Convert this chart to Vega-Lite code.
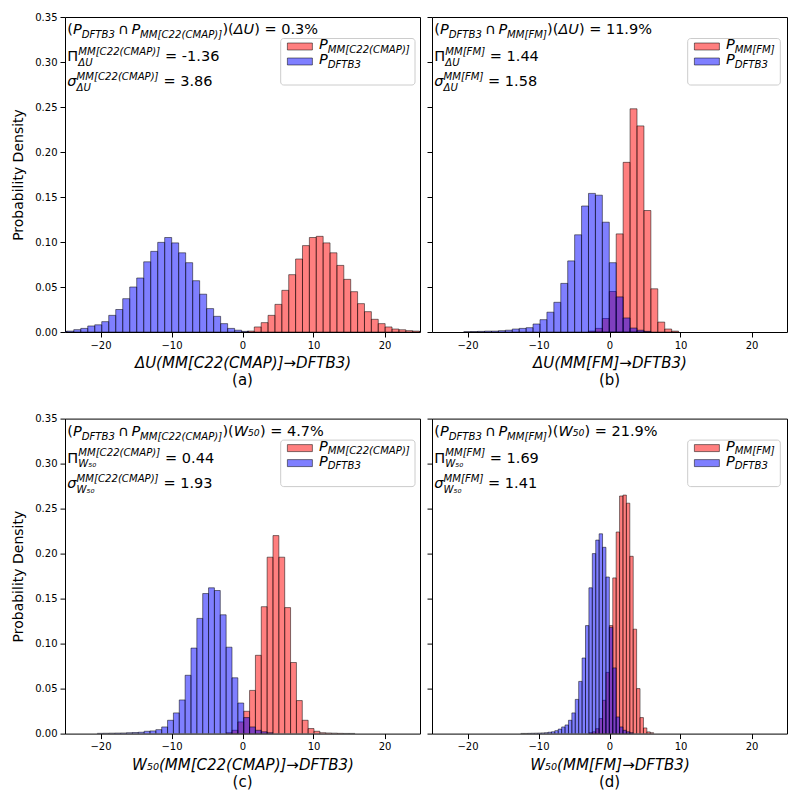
{
"$schema":"https://vega.github.io/schema/vega-lite/v6.json",
"background":"white",
"padding":{"left":11,"top":11,"right":0,"bottom":0},
"bounds":"flush",
"columns":2,
"spacing":{"row":86.6,"column":12},
"config":{
 "font":"DejaVu Sans",
 "view":{"stroke":"black","strokeWidth":1},
 "axis":{"domain":false,"grid":false,"tickColor":"black","tickSize":5,"tickWidth":1,"labelFontSize":10,"labelColor":"black","labelFont":"DejaVu Sans","labelPadding":3,"labelFlush":false,"labelOverlap":false,"titleFont":"DejaVu Sans","titleColor":"black","titleFontWeight":"normal"},
 "axisX":{"titleFontSize":15,"titleFontStyle":"italic","titlePadding":5.5},
 "axisY":{"titleFontSize":14,"titlePadding":9}
},
"datasets":{"all":[
{"p":"a","g":"MM","x":0.69,"x2":1.66,"y":0.001},{"p":"a","g":"MM","x":1.66,"x2":2.63,"y":0.0056},{"p":"a","g":"MM","x":2.63,"x2":3.6,"y":0.0104},{"p":"a","g":"MM","x":3.6,"x2":4.57,"y":0.0185},{"p":"a","g":"MM","x":4.57,"x2":5.54,"y":0.0307},{"p":"a","g":"MM","x":5.54,"x2":6.51,"y":0.0463},{"p":"a","g":"MM","x":6.51,"x2":7.48,"y":0.0637},{"p":"a","g":"MM","x":7.48,"x2":8.45,"y":0.0811},{"p":"a","g":"MM","x":8.45,"x2":9.42,"y":0.096},{"p":"a","g":"MM","x":9.42,"x2":10.39,"y":0.105},{"p":"a","g":"MM","x":10.39,"x2":11.36,"y":0.1063},{"p":"a","g":"MM","x":11.36,"x2":12.33,"y":0.099},{"p":"a","g":"MM","x":12.33,"x2":13.3,"y":0.088},{"p":"a","g":"MM","x":13.3,"x2":14.27,"y":0.074},{"p":"a","g":"MM","x":14.27,"x2":15.24,"y":0.0585},{"p":"a","g":"MM","x":15.24,"x2":16.21,"y":0.0448},{"p":"a","g":"MM","x":16.21,"x2":17.18,"y":0.0315},{"p":"a","g":"MM","x":17.18,"x2":18.15,"y":0.0226},{"p":"a","g":"MM","x":18.15,"x2":19.12,"y":0.0141},{"p":"a","g":"MM","x":19.12,"x2":20.09,"y":0.0093},{"p":"a","g":"MM","x":20.09,"x2":21.06,"y":0.0056},{"p":"a","g":"MM","x":21.06,"x2":22.03,"y":0.0033},{"p":"a","g":"MM","x":22.03,"x2":23.0,"y":0.0025},{"p":"a","g":"MM","x":23.0,"x2":23.97,"y":0.0015},{"p":"a","g":"MM","x":23.97,"x2":24.94,"y":0.001},{"p":"a","g":"MM","x":24.94,"x2":25.91,"y":0.0005},
{"p":"a","g":"DF","x":-25.735,"x2":-24.75,"y":0.0008},{"p":"a","g":"DF","x":-24.75,"x2":-23.765,"y":0.001},{"p":"a","g":"DF","x":-23.765,"x2":-22.78,"y":0.0026},{"p":"a","g":"DF","x":-22.78,"x2":-21.795,"y":0.004},{"p":"a","g":"DF","x":-21.795,"x2":-20.81,"y":0.0067},{"p":"a","g":"DF","x":-20.81,"x2":-19.825,"y":0.008},{"p":"a","g":"DF","x":-19.825,"x2":-18.84,"y":0.0115},{"p":"a","g":"DF","x":-18.84,"x2":-17.855,"y":0.0185},{"p":"a","g":"DF","x":-17.855,"x2":-16.87,"y":0.025},{"p":"a","g":"DF","x":-16.87,"x2":-15.885,"y":0.037},{"p":"a","g":"DF","x":-15.885,"x2":-14.9,"y":0.05},{"p":"a","g":"DF","x":-14.9,"x2":-13.915,"y":0.06},{"p":"a","g":"DF","x":-13.915,"x2":-12.93,"y":0.078},{"p":"a","g":"DF","x":-12.93,"x2":-11.945,"y":0.0896},{"p":"a","g":"DF","x":-11.945,"x2":-10.96,"y":0.0996},{"p":"a","g":"DF","x":-10.96,"x2":-9.975,"y":0.105},{"p":"a","g":"DF","x":-9.975,"x2":-8.99,"y":0.099},{"p":"a","g":"DF","x":-8.99,"x2":-8.005,"y":0.088},{"p":"a","g":"DF","x":-8.005,"x2":-7.02,"y":0.077},{"p":"a","g":"DF","x":-7.02,"x2":-6.035,"y":0.057},{"p":"a","g":"DF","x":-6.035,"x2":-5.05,"y":0.042},{"p":"a","g":"DF","x":-5.05,"x2":-4.065,"y":0.026},{"p":"a","g":"DF","x":-4.065,"x2":-3.08,"y":0.0174},{"p":"a","g":"DF","x":-3.08,"x2":-2.095,"y":0.0093},{"p":"a","g":"DF","x":-2.095,"x2":-1.11,"y":0.004},{"p":"a","g":"DF","x":-1.11,"x2":-0.125,"y":0.002},{"p":"a","g":"DF","x":-0.125,"x2":0.86,"y":0.0007},
{"p":"b","g":"DF","x":-20.526,"x2":-19.55,"y":0.0003},{"p":"b","g":"DF","x":-19.55,"x2":-18.574,"y":0.0005},{"p":"b","g":"DF","x":-18.574,"x2":-17.598,"y":0.0007},{"p":"b","g":"DF","x":-17.598,"x2":-16.622,"y":0.001},{"p":"b","g":"DF","x":-16.622,"x2":-15.646,"y":0.001},{"p":"b","g":"DF","x":-15.646,"x2":-14.67,"y":0.0015},{"p":"b","g":"DF","x":-14.67,"x2":-13.694,"y":0.002},{"p":"b","g":"DF","x":-13.694,"x2":-12.718,"y":0.0033},{"p":"b","g":"DF","x":-12.718,"x2":-11.742,"y":0.004},{"p":"b","g":"DF","x":-11.742,"x2":-10.766,"y":0.0048},{"p":"b","g":"DF","x":-10.766,"x2":-9.79,"y":0.0089},{"p":"b","g":"DF","x":-9.79,"x2":-8.814,"y":0.0137},{"p":"b","g":"DF","x":-8.814,"x2":-7.838,"y":0.022},{"p":"b","g":"DF","x":-7.838,"x2":-6.862,"y":0.033},{"p":"b","g":"DF","x":-6.862,"x2":-5.886,"y":0.054},{"p":"b","g":"DF","x":-5.886,"x2":-4.91,"y":0.079},{"p":"b","g":"DF","x":-4.91,"x2":-3.934,"y":0.108},{"p":"b","g":"DF","x":-3.934,"x2":-2.958,"y":0.14},{"p":"b","g":"DF","x":-2.958,"x2":-1.982,"y":0.154},{"p":"b","g":"DF","x":-1.982,"x2":-1.006,"y":0.152},{"p":"b","g":"DF","x":-1.006,"x2":-0.03,"y":0.122},{"p":"b","g":"DF","x":-0.03,"x2":0.946,"y":0.077},{"p":"b","g":"DF","x":0.946,"x2":1.922,"y":0.039},{"p":"b","g":"DF","x":1.922,"x2":2.898,"y":0.0156},{"p":"b","g":"DF","x":2.898,"x2":3.874,"y":0.0044},{"p":"b","g":"DF","x":3.874,"x2":4.85,"y":0.002},{"p":"b","g":"DF","x":4.85,"x2":5.826,"y":0.0007},
{"p":"b","g":"MM","x":-2.958,"x2":-1.982,"y":0.001},{"p":"b","g":"MM","x":-1.982,"x2":-1.006,"y":0.004},{"p":"b","g":"MM","x":-1.006,"x2":-0.03,"y":0.015},{"p":"b","g":"MM","x":-0.03,"x2":0.946,"y":0.045},{"p":"b","g":"MM","x":0.946,"x2":1.922,"y":0.109},{"p":"b","g":"MM","x":1.922,"x2":2.898,"y":0.1885},{"p":"b","g":"MM","x":2.898,"x2":3.874,"y":0.248},{"p":"b","g":"MM","x":3.874,"x2":4.85,"y":0.229},{"p":"b","g":"MM","x":4.85,"x2":5.826,"y":0.135},{"p":"b","g":"MM","x":5.826,"x2":6.802,"y":0.048},{"p":"b","g":"MM","x":6.802,"x2":7.778,"y":0.011},{"p":"b","g":"MM","x":7.778,"x2":8.754,"y":0.0033},{"p":"b","g":"MM","x":8.754,"x2":9.73,"y":0.001},
{"p":"c","g":"DF","x":-20.455,"x2":-19.63,"y":0.0003},{"p":"c","g":"DF","x":-19.63,"x2":-18.805,"y":0.0004},{"p":"c","g":"DF","x":-18.805,"x2":-17.98,"y":0.0005},{"p":"c","g":"DF","x":-17.98,"x2":-17.155,"y":0.0006},{"p":"c","g":"DF","x":-17.155,"x2":-16.33,"y":0.0007},{"p":"c","g":"DF","x":-16.33,"x2":-15.505,"y":0.001},{"p":"c","g":"DF","x":-15.505,"x2":-14.68,"y":0.0012},{"p":"c","g":"DF","x":-14.68,"x2":-13.855,"y":0.0015},{"p":"c","g":"DF","x":-13.855,"x2":-13.03,"y":0.0026},{"p":"c","g":"DF","x":-13.03,"x2":-12.205,"y":0.003},{"p":"c","g":"DF","x":-12.205,"x2":-11.38,"y":0.0044},{"p":"c","g":"DF","x":-11.38,"x2":-10.555,"y":0.0074},{"p":"c","g":"DF","x":-10.555,"x2":-9.73,"y":0.0148},{"p":"c","g":"DF","x":-9.73,"x2":-8.905,"y":0.023},{"p":"c","g":"DF","x":-8.905,"x2":-8.08,"y":0.0374},{"p":"c","g":"DF","x":-8.08,"x2":-7.255,"y":0.0648},{"p":"c","g":"DF","x":-7.255,"x2":-6.43,"y":0.095},{"p":"c","g":"DF","x":-6.43,"x2":-5.605,"y":0.128},{"p":"c","g":"DF","x":-5.605,"x2":-4.78,"y":0.1556},{"p":"c","g":"DF","x":-4.78,"x2":-3.955,"y":0.162},{"p":"c","g":"DF","x":-3.955,"x2":-3.13,"y":0.159},{"p":"c","g":"DF","x":-3.13,"x2":-2.305,"y":0.132},{"p":"c","g":"DF","x":-2.305,"x2":-1.48,"y":0.096},{"p":"c","g":"DF","x":-1.48,"x2":-0.655,"y":0.062},{"p":"c","g":"DF","x":-0.655,"x2":0.17,"y":0.034},{"p":"c","g":"DF","x":0.17,"x2":0.995,"y":0.0178},{"p":"c","g":"DF","x":0.995,"x2":1.82,"y":0.0074},{"p":"c","g":"DF","x":1.82,"x2":2.645,"y":0.0037},{"p":"c","g":"DF","x":2.645,"x2":3.47,"y":0.002},{"p":"c","g":"DF","x":3.47,"x2":4.295,"y":0.001},
{"p":"c","g":"MM","x":-2.305,"x2":-1.48,"y":0.001},{"p":"c","g":"MM","x":-1.48,"x2":-0.655,"y":0.0037},{"p":"c","g":"MM","x":-0.655,"x2":0.17,"y":0.013},{"p":"c","g":"MM","x":0.17,"x2":0.995,"y":0.0248},{"p":"c","g":"MM","x":0.995,"x2":1.82,"y":0.048},{"p":"c","g":"MM","x":1.82,"x2":2.645,"y":0.087},{"p":"c","g":"MM","x":2.645,"x2":3.47,"y":0.141},{"p":"c","g":"MM","x":3.47,"x2":4.295,"y":0.196},{"p":"c","g":"MM","x":4.295,"x2":5.12,"y":0.22},{"p":"c","g":"MM","x":5.12,"x2":5.945,"y":0.196},{"p":"c","g":"MM","x":5.945,"x2":6.77,"y":0.14},{"p":"c","g":"MM","x":6.77,"x2":7.595,"y":0.079},{"p":"c","g":"MM","x":7.595,"x2":8.42,"y":0.0367},{"p":"c","g":"MM","x":8.42,"x2":9.245,"y":0.0148},{"p":"c","g":"MM","x":9.245,"x2":10.07,"y":0.0056},{"p":"c","g":"MM","x":10.07,"x2":10.895,"y":0.0026},{"p":"c","g":"MM","x":10.895,"x2":11.72,"y":0.001},{"p":"c","g":"MM","x":11.72,"x2":12.545,"y":0.0007},{"p":"c","g":"MM","x":12.545,"x2":13.37,"y":0.0005},{"p":"c","g":"MM","x":13.37,"x2":14.195,"y":0.0003},{"p":"c","g":"MM","x":14.195,"x2":15.02,"y":0.0002},{"p":"c","g":"MM","x":15.02,"x2":15.845,"y":0.0002},
{"p":"d","g":"DF","x":-12.5,"x2":-12.02,"y":0.0002},{"p":"d","g":"DF","x":-12.02,"x2":-11.54,"y":0.0002},{"p":"d","g":"DF","x":-11.54,"x2":-11.06,"y":0.0003},{"p":"d","g":"DF","x":-11.06,"x2":-10.58,"y":0.0004},{"p":"d","g":"DF","x":-10.58,"x2":-10.1,"y":0.0005},{"p":"d","g":"DF","x":-10.1,"x2":-9.62,"y":0.0006},{"p":"d","g":"DF","x":-9.62,"x2":-9.14,"y":0.0008},{"p":"d","g":"DF","x":-9.14,"x2":-8.66,"y":0.001},{"p":"d","g":"DF","x":-8.66,"x2":-8.18,"y":0.0015},{"p":"d","g":"DF","x":-8.18,"x2":-7.7,"y":0.002},{"p":"d","g":"DF","x":-7.7,"x2":-7.22,"y":0.0033},{"p":"d","g":"DF","x":-7.22,"x2":-6.74,"y":0.005},{"p":"d","g":"DF","x":-6.74,"x2":-6.26,"y":0.0074},{"p":"d","g":"DF","x":-6.26,"x2":-5.78,"y":0.0096},{"p":"d","g":"DF","x":-5.78,"x2":-5.3,"y":0.0148},{"p":"d","g":"DF","x":-5.3,"x2":-4.82,"y":0.023},{"p":"d","g":"DF","x":-4.82,"x2":-4.34,"y":0.038},{"p":"d","g":"DF","x":-4.34,"x2":-3.86,"y":0.058},{"p":"d","g":"DF","x":-3.86,"x2":-3.38,"y":0.084},{"p":"d","g":"DF","x":-3.38,"x2":-2.9,"y":0.12},{"p":"d","g":"DF","x":-2.9,"x2":-2.42,"y":0.162},{"p":"d","g":"DF","x":-2.42,"x2":-1.94,"y":0.2},{"p":"d","g":"DF","x":-1.94,"x2":-1.46,"y":0.215},{"p":"d","g":"DF","x":-1.46,"x2":-0.98,"y":0.222},{"p":"d","g":"DF","x":-0.98,"x2":-0.5,"y":0.207},{"p":"d","g":"DF","x":-0.5,"x2":-0.02,"y":0.174},{"p":"d","g":"DF","x":-0.02,"x2":0.46,"y":0.118},{"p":"d","g":"DF","x":0.46,"x2":0.94,"y":0.073},{"p":"d","g":"DF","x":0.94,"x2":1.42,"y":0.0185},{"p":"d","g":"DF","x":1.42,"x2":1.9,"y":0.0074},{"p":"d","g":"DF","x":1.9,"x2":2.38,"y":0.0037},{"p":"d","g":"DF","x":2.38,"x2":2.86,"y":0.002},{"p":"d","g":"DF","x":2.86,"x2":3.34,"y":0.001},
{"p":"d","g":"MM","x":-2.9,"x2":-2.42,"y":0.001},{"p":"d","g":"MM","x":-2.42,"x2":-1.94,"y":0.002},{"p":"d","g":"MM","x":-1.94,"x2":-1.46,"y":0.0055},{"p":"d","g":"MM","x":-1.46,"x2":-0.98,"y":0.0167},{"p":"d","g":"MM","x":-0.98,"x2":-0.5,"y":0.037},{"p":"d","g":"MM","x":-0.5,"x2":-0.02,"y":0.068},{"p":"d","g":"MM","x":-0.02,"x2":0.46,"y":0.12},{"p":"d","g":"MM","x":0.46,"x2":0.94,"y":0.173},{"p":"d","g":"MM","x":0.94,"x2":1.42,"y":0.224},{"p":"d","g":"MM","x":1.42,"x2":1.9,"y":0.264},{"p":"d","g":"MM","x":1.9,"x2":2.38,"y":0.265},{"p":"d","g":"MM","x":2.38,"x2":2.86,"y":0.256},{"p":"d","g":"MM","x":2.86,"x2":3.34,"y":0.197},{"p":"d","g":"MM","x":3.34,"x2":3.82,"y":0.116},{"p":"d","g":"MM","x":3.82,"x2":4.3,"y":0.05},{"p":"d","g":"MM","x":4.3,"x2":4.78,"y":0.0178},{"p":"d","g":"MM","x":4.78,"x2":5.26,"y":0.0063},{"p":"d","g":"MM","x":5.26,"x2":5.74,"y":0.0019},{"p":"d","g":"MM","x":5.74,"x2":6.22,"y":0.001},
{"p":"a","g":"box","x":5.38,"x2":24.296,"y":0.27444,"y2":0.32611},{"p":"a","g":"pMM","x":6.324,"x2":9.845,"y":0.31333,"y2":0.32111},{"p":"a","g":"pDF","x":6.324,"x2":9.845,"y":0.29667,"y2":0.30444},
{"p":"c","g":"box","x":5.38,"x2":24.296,"y":0.27444,"y2":0.32611},{"p":"c","g":"pMM","x":6.324,"x2":9.845,"y":0.31333,"y2":0.32111},{"p":"c","g":"pDF","x":6.324,"x2":9.845,"y":0.29667,"y2":0.30444},
{"p":"b","g":"box","x":11.014,"x2":24.056,"y":0.27444,"y2":0.32611},{"p":"b","g":"pMM","x":11.958,"x2":15.479,"y":0.31333,"y2":0.32111},{"p":"b","g":"pDF","x":11.958,"x2":15.479,"y":0.29667,"y2":0.30444},
{"p":"d","g":"box","x":11.014,"x2":24.056,"y":0.27444,"y2":0.32611},{"p":"d","g":"pMM","x":11.958,"x2":15.479,"y":0.31333,"y2":0.32111},{"p":"d","g":"pDF","x":11.958,"x2":15.479,"y":0.29667,"y2":0.30444},
{"p":"a","g":"n","x":-24.676,"y":0.33056,"t":"("},{"p":"a","g":"i","x":-23.879,"y":0.33056,"t":"P"},{"p":"a","g":"sb","x":-22.648,"y":0.33056,"t":"DFTB3"},{"p":"a","g":"n","x":-17.549,"y":0.33056,"t":"∩"},{"p":"a","g":"i","x":-15.648,"y":0.33056,"t":"P"},{"p":"a","g":"sb","x":-14.423,"y":0.33056,"t":"MM[C22(CMAP)]"},{"p":"a","g":"n","x":-2.831,"y":0.33056,"t":")("},{"p":"a","g":"i","x":-1.239,"y":0.33056,"t":"ΔU"},{"p":"a","g":"n","x":1.648,"y":0.33056,"t":") = 0.3%"},
{"p":"a","g":"n","x":-24.676,"y":0.30111,"t":"Π"},{"p":"a","g":"sp","x":-23.141,"y":0.30111,"t":"MM[C22(CMAP)]"},{"p":"a","g":"sb2","x":-23.141,"y":0.30111,"t":"ΔU"},{"p":"a","g":"n","x":-10.901,"y":0.30111,"t":"= -1.36"},
{"p":"a","g":"i","x":-24.676,"y":0.27278,"t":"σ"},{"p":"a","g":"sp","x":-23.38,"y":0.27278,"t":"MM[C22(CMAP)]"},{"p":"a","g":"sb2","x":-23.38,"y":0.27278,"t":"ΔU"},{"p":"a","g":"n","x":-11.141,"y":0.27278,"t":"= 3.86"},
{"p":"a","g":"i","x":10.775,"y":0.31411,"t":"P"},{"p":"a","g":"sb","x":12.006,"y":0.31411,"t":"MM[C22(CMAP)]"},{"p":"a","g":"i","x":10.775,"y":0.29744,"t":"P"},{"p":"a","g":"sb","x":12.006,"y":0.29744,"t":"DFTB3"},
{"p":"b","g":"n","x":-24.676,"y":0.33056,"t":"("},{"p":"b","g":"i","x":-23.879,"y":0.33056,"t":"P"},{"p":"b","g":"sb","x":-22.648,"y":0.33056,"t":"DFTB3"},{"p":"b","g":"n","x":-17.549,"y":0.33056,"t":"∩"},{"p":"b","g":"i","x":-15.648,"y":0.33056,"t":"P"},{"p":"b","g":"sb","x":-14.423,"y":0.33056,"t":"MM[FM]"},{"p":"b","g":"n","x":-8.789,"y":0.33056,"t":")("},{"p":"b","g":"i","x":-7.197,"y":0.33056,"t":"ΔU"},{"p":"b","g":"n","x":-4.31,"y":0.33056,"t":") = 11.9%"},
{"p":"b","g":"n","x":-24.676,"y":0.30111,"t":"Π"},{"p":"b","g":"sp","x":-23.141,"y":0.30111,"t":"MM[FM]"},{"p":"b","g":"sb2","x":-23.141,"y":0.30111,"t":"ΔU"},{"p":"b","g":"n","x":-16.859,"y":0.30111,"t":"= 1.44"},
{"p":"b","g":"i","x":-24.676,"y":0.27278,"t":"σ"},{"p":"b","g":"sp","x":-23.38,"y":0.27278,"t":"MM[FM]"},{"p":"b","g":"sb2","x":-23.38,"y":0.27278,"t":"ΔU"},{"p":"b","g":"n","x":-17.099,"y":0.27278,"t":"= 1.58"},
{"p":"b","g":"i","x":16.408,"y":0.31411,"t":"P"},{"p":"b","g":"sb","x":17.639,"y":0.31411,"t":"MM[FM]"},{"p":"b","g":"i","x":16.408,"y":0.29744,"t":"P"},{"p":"b","g":"sb","x":17.639,"y":0.29744,"t":"DFTB3"},
{"p":"c","g":"n","x":-24.676,"y":0.33056,"t":"("},{"p":"c","g":"i","x":-23.879,"y":0.33056,"t":"P"},{"p":"c","g":"sb","x":-22.648,"y":0.33056,"t":"DFTB3"},{"p":"c","g":"n","x":-17.549,"y":0.33056,"t":"∩"},{"p":"c","g":"i","x":-15.648,"y":0.33056,"t":"P"},{"p":"c","g":"sb","x":-14.423,"y":0.33056,"t":"MM[C22(CMAP)]"},{"p":"c","g":"n","x":-2.831,"y":0.33056,"t":")("},{"p":"c","g":"i","x":-1.239,"y":0.33056,"t":"W₅₀"},{"p":"c","g":"n","x":2.465,"y":0.33056,"t":") = 4.7%"},
{"p":"c","g":"n","x":-24.676,"y":0.30111,"t":"Π"},{"p":"c","g":"sp","x":-23.141,"y":0.30111,"t":"MM[C22(CMAP)]"},{"p":"c","g":"sb2","x":-23.141,"y":0.30111,"t":"W₅₀"},{"p":"c","g":"n","x":-10.901,"y":0.30111,"t":"= 0.44"},
{"p":"c","g":"i","x":-24.676,"y":0.27278,"t":"σ"},{"p":"c","g":"sp","x":-23.38,"y":0.27278,"t":"MM[C22(CMAP)]"},{"p":"c","g":"sb2","x":-23.38,"y":0.27278,"t":"W₅₀"},{"p":"c","g":"n","x":-11.141,"y":0.27278,"t":"= 1.93"},
{"p":"c","g":"i","x":10.775,"y":0.31411,"t":"P"},{"p":"c","g":"sb","x":12.006,"y":0.31411,"t":"MM[C22(CMAP)]"},{"p":"c","g":"i","x":10.775,"y":0.29744,"t":"P"},{"p":"c","g":"sb","x":12.006,"y":0.29744,"t":"DFTB3"},
{"p":"d","g":"n","x":-24.676,"y":0.33056,"t":"("},{"p":"d","g":"i","x":-23.879,"y":0.33056,"t":"P"},{"p":"d","g":"sb","x":-22.648,"y":0.33056,"t":"DFTB3"},{"p":"d","g":"n","x":-17.549,"y":0.33056,"t":"∩"},{"p":"d","g":"i","x":-15.648,"y":0.33056,"t":"P"},{"p":"d","g":"sb","x":-14.423,"y":0.33056,"t":"MM[FM]"},{"p":"d","g":"n","x":-8.789,"y":0.33056,"t":")("},{"p":"d","g":"i","x":-7.197,"y":0.33056,"t":"W₅₀"},{"p":"d","g":"n","x":-3.535,"y":0.33056,"t":") = 21.9%"},
{"p":"d","g":"n","x":-24.676,"y":0.30111,"t":"Π"},{"p":"d","g":"sp","x":-23.141,"y":0.30111,"t":"MM[FM]"},{"p":"d","g":"sb2","x":-23.141,"y":0.30111,"t":"W₅₀"},{"p":"d","g":"n","x":-16.859,"y":0.30111,"t":"= 1.69"},
{"p":"d","g":"i","x":-24.676,"y":0.27278,"t":"σ"},{"p":"d","g":"sp","x":-23.38,"y":0.27278,"t":"MM[FM]"},{"p":"d","g":"sb2","x":-23.38,"y":0.27278,"t":"W₅₀"},{"p":"d","g":"n","x":-17.099,"y":0.27278,"t":"= 1.41"},
{"p":"d","g":"i","x":16.408,"y":0.31411,"t":"P"},{"p":"d","g":"sb","x":17.639,"y":0.31411,"t":"MM[FM]"},{"p":"d","g":"i","x":16.408,"y":0.29744,"t":"P"},{"p":"d","g":"sb","x":17.639,"y":0.29744,"t":"DFTB3"}
]},
"concat":[
 {"width":355,"height":315,"data":{"name":"all"},"transform":[{"filter":"datum.p=='a'"}],
  "title":{"text":"(a)","orient":"bottom","anchor":"middle","fontSize":15,"fontWeight":"normal","font":"DejaVu Sans","color":"black","offset":2.5},
  "encoding":{"x":{"field":"x","type":"quantitative","scale":{"domain":[-25,25],"nice":false,"zero":false},"axis":{"title":"ΔU(MM[C22(CMAP)]→DFTB3)","values":[-20,-10,0,10,20]}},
   "y":{"field":"y","type":"quantitative","scale":{"domain":[0,0.35],"nice":false,"zero":false},"axis":{"title":"Probability Density","values":[0,0.05,0.1,0.15,0.2,0.25,0.3,0.35],"format":".2f"}}},
  "layer":[
   {"transform":[{"filter":"datum.g=='MM'"}],"mark":{"type":"rect","clip":true,"fill":"red","fillOpacity":0.5,"stroke":"black","strokeOpacity":0.5,"strokeWidth":1},"encoding":{"x2":{"field":"x2"},"y2":{"datum":0}}},
   {"transform":[{"filter":"datum.g=='DF'"}],"mark":{"type":"rect","clip":true,"fill":"blue","fillOpacity":0.5,"stroke":"black","strokeOpacity":0.5,"strokeWidth":1},"encoding":{"x2":{"field":"x2"},"y2":{"datum":0}}},
   {"transform":[{"filter":"datum.g=='box'"}],"mark":{"type":"rect","fill":"white","fillOpacity":0.8,"stroke":"#cccccc","strokeWidth":1,"cornerRadius":3},"encoding":{"x2":{"field":"x2"},"y2":{"field":"y2"}}},
   {"transform":[{"filter":"datum.g=='pMM'"}],"mark":{"type":"rect","fill":"red","fillOpacity":0.5,"stroke":"black","strokeOpacity":0.5,"strokeWidth":1},"encoding":{"x2":{"field":"x2"},"y2":{"field":"y2"}}},
   {"transform":[{"filter":"datum.g=='pDF'"}],"mark":{"type":"rect","fill":"blue","fillOpacity":0.5,"stroke":"black","strokeOpacity":0.5,"strokeWidth":1},"encoding":{"x2":{"field":"x2"},"y2":{"field":"y2"}}},
   {"transform":[{"filter":"datum.g=='n'"}],"mark":{"type":"text","align":"left","baseline":"alphabetic","fontSize":14.5,"color":"black"},"encoding":{"text":{"field":"t"}}},
   {"transform":[{"filter":"datum.g=='i'"}],"mark":{"type":"text","align":"left","baseline":"alphabetic","fontSize":14.5,"fontStyle":"italic","color":"black"},"encoding":{"text":{"field":"t"}}},
   {"transform":[{"filter":"datum.g=='sb'"}],"mark":{"type":"text","align":"left","baseline":"alphabetic","fontSize":10.15,"fontStyle":"italic","dy":3.5,"color":"black"},"encoding":{"text":{"field":"t"}}},
   {"transform":[{"filter":"datum.g=='sp'"}],"mark":{"type":"text","align":"left","baseline":"alphabetic","fontSize":10.15,"fontStyle":"italic","dy":-6.5,"color":"black"},"encoding":{"text":{"field":"t"}}},
   {"transform":[{"filter":"datum.g=='sb2'"}],"mark":{"type":"text","align":"left","baseline":"alphabetic","fontSize":10.15,"fontStyle":"italic","dy":4.5,"color":"black"},"encoding":{"text":{"field":"t"}}}
  ]},
 {"width":355,"height":315,"data":{"name":"all"},"transform":[{"filter":"datum.p=='b'"}],
  "title":{"text":"(b)","orient":"bottom","anchor":"middle","fontSize":15,"fontWeight":"normal","font":"DejaVu Sans","color":"black","offset":2.5},
  "encoding":{"x":{"field":"x","type":"quantitative","scale":{"domain":[-25,25],"nice":false,"zero":false},"axis":{"title":"ΔU(MM[FM]→DFTB3)","values":[-20,-10,0,10,20]}},
   "y":{"field":"y","type":"quantitative","scale":{"domain":[0,0.35],"nice":false,"zero":false},"axis":{"title":null,"labels":false,"values":[0,0.05,0.1,0.15,0.2,0.25,0.3,0.35]}}},
  "layer":[
   {"transform":[{"filter":"datum.g=='MM'"}],"mark":{"type":"rect","clip":true,"fill":"red","fillOpacity":0.5,"stroke":"black","strokeOpacity":0.5,"strokeWidth":1},"encoding":{"x2":{"field":"x2"},"y2":{"datum":0}}},
   {"transform":[{"filter":"datum.g=='DF'"}],"mark":{"type":"rect","clip":true,"fill":"blue","fillOpacity":0.5,"stroke":"black","strokeOpacity":0.5,"strokeWidth":1},"encoding":{"x2":{"field":"x2"},"y2":{"datum":0}}},
   {"transform":[{"filter":"datum.g=='box'"}],"mark":{"type":"rect","fill":"white","fillOpacity":0.8,"stroke":"#cccccc","strokeWidth":1,"cornerRadius":3},"encoding":{"x2":{"field":"x2"},"y2":{"field":"y2"}}},
   {"transform":[{"filter":"datum.g=='pMM'"}],"mark":{"type":"rect","fill":"red","fillOpacity":0.5,"stroke":"black","strokeOpacity":0.5,"strokeWidth":1},"encoding":{"x2":{"field":"x2"},"y2":{"field":"y2"}}},
   {"transform":[{"filter":"datum.g=='pDF'"}],"mark":{"type":"rect","fill":"blue","fillOpacity":0.5,"stroke":"black","strokeOpacity":0.5,"strokeWidth":1},"encoding":{"x2":{"field":"x2"},"y2":{"field":"y2"}}},
   {"transform":[{"filter":"datum.g=='n'"}],"mark":{"type":"text","align":"left","baseline":"alphabetic","fontSize":14.5,"color":"black"},"encoding":{"text":{"field":"t"}}},
   {"transform":[{"filter":"datum.g=='i'"}],"mark":{"type":"text","align":"left","baseline":"alphabetic","fontSize":14.5,"fontStyle":"italic","color":"black"},"encoding":{"text":{"field":"t"}}},
   {"transform":[{"filter":"datum.g=='sb'"}],"mark":{"type":"text","align":"left","baseline":"alphabetic","fontSize":10.15,"fontStyle":"italic","dy":3.5,"color":"black"},"encoding":{"text":{"field":"t"}}},
   {"transform":[{"filter":"datum.g=='sp'"}],"mark":{"type":"text","align":"left","baseline":"alphabetic","fontSize":10.15,"fontStyle":"italic","dy":-6.5,"color":"black"},"encoding":{"text":{"field":"t"}}},
   {"transform":[{"filter":"datum.g=='sb2'"}],"mark":{"type":"text","align":"left","baseline":"alphabetic","fontSize":10.15,"fontStyle":"italic","dy":4.5,"color":"black"},"encoding":{"text":{"field":"t"}}}
  ]},
 {"width":355,"height":315,"data":{"name":"all"},"transform":[{"filter":"datum.p=='c'"}],
  "title":{"text":"(c)","orient":"bottom","anchor":"middle","fontSize":15,"fontWeight":"normal","font":"DejaVu Sans","color":"black","offset":2.5},
  "encoding":{"x":{"field":"x","type":"quantitative","scale":{"domain":[-25,25],"nice":false,"zero":false},"axis":{"title":"W₅₀(MM[C22(CMAP)]→DFTB3)","values":[-20,-10,0,10,20]}},
   "y":{"field":"y","type":"quantitative","scale":{"domain":[0,0.35],"nice":false,"zero":false},"axis":{"title":"Probability Density","values":[0,0.05,0.1,0.15,0.2,0.25,0.3,0.35],"format":".2f"}}},
  "layer":[
   {"transform":[{"filter":"datum.g=='MM'"}],"mark":{"type":"rect","clip":true,"fill":"red","fillOpacity":0.5,"stroke":"black","strokeOpacity":0.5,"strokeWidth":1},"encoding":{"x2":{"field":"x2"},"y2":{"datum":0}}},
   {"transform":[{"filter":"datum.g=='DF'"}],"mark":{"type":"rect","clip":true,"fill":"blue","fillOpacity":0.5,"stroke":"black","strokeOpacity":0.5,"strokeWidth":1},"encoding":{"x2":{"field":"x2"},"y2":{"datum":0}}},
   {"transform":[{"filter":"datum.g=='box'"}],"mark":{"type":"rect","fill":"white","fillOpacity":0.8,"stroke":"#cccccc","strokeWidth":1,"cornerRadius":3},"encoding":{"x2":{"field":"x2"},"y2":{"field":"y2"}}},
   {"transform":[{"filter":"datum.g=='pMM'"}],"mark":{"type":"rect","fill":"red","fillOpacity":0.5,"stroke":"black","strokeOpacity":0.5,"strokeWidth":1},"encoding":{"x2":{"field":"x2"},"y2":{"field":"y2"}}},
   {"transform":[{"filter":"datum.g=='pDF'"}],"mark":{"type":"rect","fill":"blue","fillOpacity":0.5,"stroke":"black","strokeOpacity":0.5,"strokeWidth":1},"encoding":{"x2":{"field":"x2"},"y2":{"field":"y2"}}},
   {"transform":[{"filter":"datum.g=='n'"}],"mark":{"type":"text","align":"left","baseline":"alphabetic","fontSize":14.5,"color":"black"},"encoding":{"text":{"field":"t"}}},
   {"transform":[{"filter":"datum.g=='i'"}],"mark":{"type":"text","align":"left","baseline":"alphabetic","fontSize":14.5,"fontStyle":"italic","color":"black"},"encoding":{"text":{"field":"t"}}},
   {"transform":[{"filter":"datum.g=='sb'"}],"mark":{"type":"text","align":"left","baseline":"alphabetic","fontSize":10.15,"fontStyle":"italic","dy":3.5,"color":"black"},"encoding":{"text":{"field":"t"}}},
   {"transform":[{"filter":"datum.g=='sp'"}],"mark":{"type":"text","align":"left","baseline":"alphabetic","fontSize":10.15,"fontStyle":"italic","dy":-6.5,"color":"black"},"encoding":{"text":{"field":"t"}}},
   {"transform":[{"filter":"datum.g=='sb2'"}],"mark":{"type":"text","align":"left","baseline":"alphabetic","fontSize":10.15,"fontStyle":"italic","dy":4.5,"color":"black"},"encoding":{"text":{"field":"t"}}}
  ]},
 {"width":355,"height":315,"data":{"name":"all"},"transform":[{"filter":"datum.p=='d'"}],
  "title":{"text":"(d)","orient":"bottom","anchor":"middle","fontSize":15,"fontWeight":"normal","font":"DejaVu Sans","color":"black","offset":2.5},
  "encoding":{"x":{"field":"x","type":"quantitative","scale":{"domain":[-25,25],"nice":false,"zero":false},"axis":{"title":"W₅₀(MM[FM]→DFTB3)","values":[-20,-10,0,10,20]}},
   "y":{"field":"y","type":"quantitative","scale":{"domain":[0,0.35],"nice":false,"zero":false},"axis":{"title":null,"labels":false,"values":[0,0.05,0.1,0.15,0.2,0.25,0.3,0.35]}}},
  "layer":[
   {"transform":[{"filter":"datum.g=='MM'"}],"mark":{"type":"rect","clip":true,"fill":"red","fillOpacity":0.5,"stroke":"black","strokeOpacity":0.5,"strokeWidth":1},"encoding":{"x2":{"field":"x2"},"y2":{"datum":0}}},
   {"transform":[{"filter":"datum.g=='DF'"}],"mark":{"type":"rect","clip":true,"fill":"blue","fillOpacity":0.5,"stroke":"black","strokeOpacity":0.5,"strokeWidth":1},"encoding":{"x2":{"field":"x2"},"y2":{"datum":0}}},
   {"transform":[{"filter":"datum.g=='box'"}],"mark":{"type":"rect","fill":"white","fillOpacity":0.8,"stroke":"#cccccc","strokeWidth":1,"cornerRadius":3},"encoding":{"x2":{"field":"x2"},"y2":{"field":"y2"}}},
   {"transform":[{"filter":"datum.g=='pMM'"}],"mark":{"type":"rect","fill":"red","fillOpacity":0.5,"stroke":"black","strokeOpacity":0.5,"strokeWidth":1},"encoding":{"x2":{"field":"x2"},"y2":{"field":"y2"}}},
   {"transform":[{"filter":"datum.g=='pDF'"}],"mark":{"type":"rect","fill":"blue","fillOpacity":0.5,"stroke":"black","strokeOpacity":0.5,"strokeWidth":1},"encoding":{"x2":{"field":"x2"},"y2":{"field":"y2"}}},
   {"transform":[{"filter":"datum.g=='n'"}],"mark":{"type":"text","align":"left","baseline":"alphabetic","fontSize":14.5,"color":"black"},"encoding":{"text":{"field":"t"}}},
   {"transform":[{"filter":"datum.g=='i'"}],"mark":{"type":"text","align":"left","baseline":"alphabetic","fontSize":14.5,"fontStyle":"italic","color":"black"},"encoding":{"text":{"field":"t"}}},
   {"transform":[{"filter":"datum.g=='sb'"}],"mark":{"type":"text","align":"left","baseline":"alphabetic","fontSize":10.15,"fontStyle":"italic","dy":3.5,"color":"black"},"encoding":{"text":{"field":"t"}}},
   {"transform":[{"filter":"datum.g=='sp'"}],"mark":{"type":"text","align":"left","baseline":"alphabetic","fontSize":10.15,"fontStyle":"italic","dy":-6.5,"color":"black"},"encoding":{"text":{"field":"t"}}},
   {"transform":[{"filter":"datum.g=='sb2'"}],"mark":{"type":"text","align":"left","baseline":"alphabetic","fontSize":10.15,"fontStyle":"italic","dy":4.5,"color":"black"},"encoding":{"text":{"field":"t"}}}
  ]}
]
}
